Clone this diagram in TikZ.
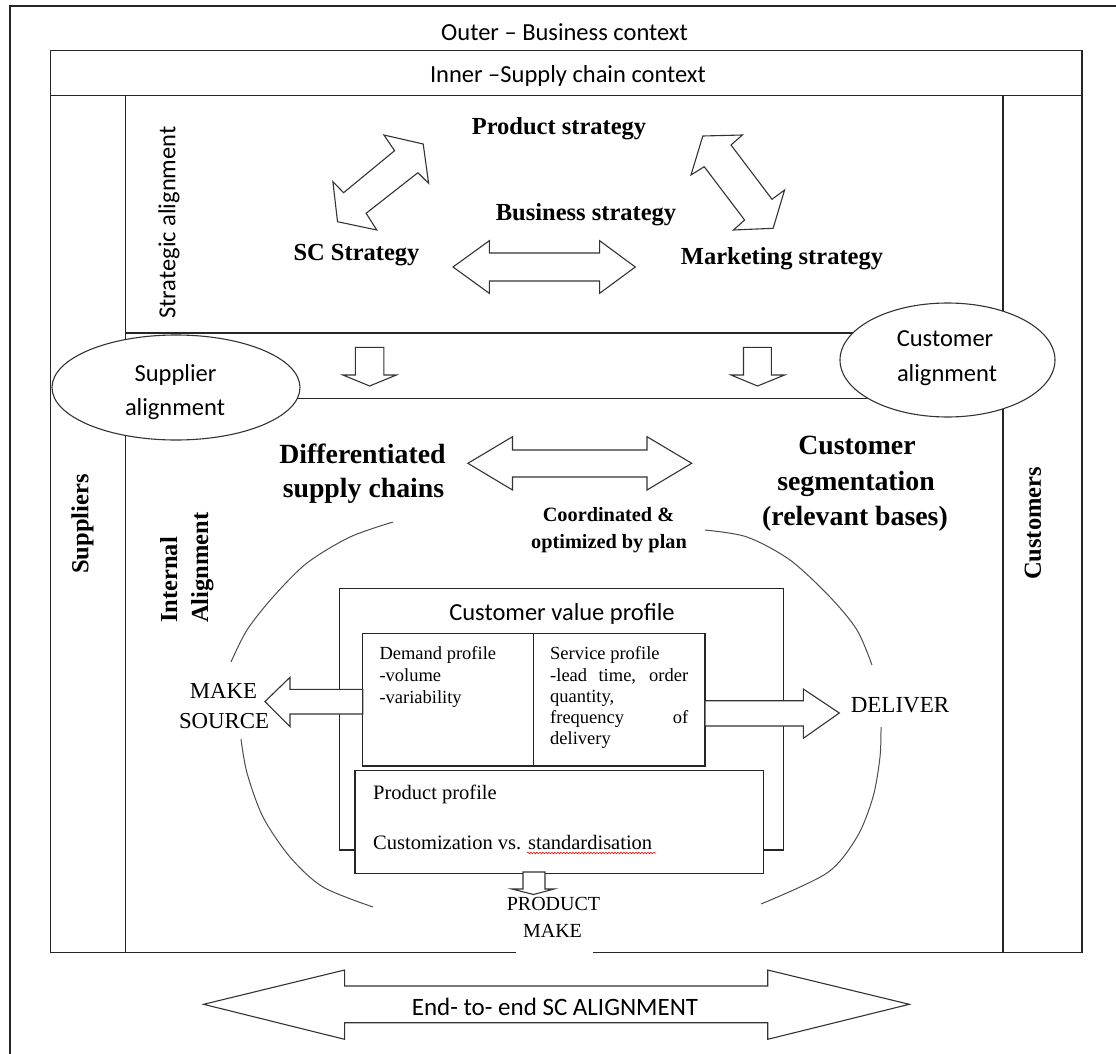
\documentclass[tikz,border=0pt]{standalone}
\usepackage{fontspec}
\setmainfont{Liberation Serif}
\newfontfamily\calfont{Carlito}
\usetikzlibrary{shapes.geometric,decorations.pathmorphing}
\newcommand\mysz[1]{\fontsize{#1}{#1}\selectfont}
\tikzset{
  frame/.style={line width=1.2pt, draw=black!85},
  blockarrow/.style={draw=black!80, line width=1.1pt, fill=white, line join=miter},
  arcline/.style={draw=black!70, line width=1pt},
  ell/.style={ellipse, draw=black!80, line width=1.1pt, fill=white, inner sep=0pt},
  lbl/.style={inner sep=0pt, anchor=base},
  lblw/.style={inner sep=0pt, anchor=base west},
  cal/.style={font=\calfont\mysz{24.5}},
  tb/.style={font=\bfseries\mysz{24.5}},
  tbig/.style={font=\bfseries\mysz{27.8}},
  tsmall/.style={font=\bfseries\mysz{20.3}},
  prof/.style={font=\mysz{18.5}},
  pprof/.style={font=\mysz{20.5}},
  capfont/.style={font=\mysz{22.8}},
}
\begin{document}
\begin{tikzpicture}[x=1pt,y=-1pt]
\useasboundingbox (0,0) rectangle (1116,1054);
% outer frame (clipped at right and bottom)
\draw[frame] (1116,6) -- (10,6) -- (10,1054);
% inner frame with gap under PRODUCT MAKE
\draw[frame] (516,952.7) -- (50.7,952.7) -- (50.7,50.7) -- (1082,50.7) -- (1082,952.7) -- (593,952.7);
\draw[frame] (50.7,95.7) -- (1082,95.7);
\draw[frame] (125.7,95.7) -- (125.7,952.7);
\draw[frame] (1003,95.7) -- (1003,952.7);
\draw[frame] (125.7,333) -- (1003,333);
\draw[frame] (125.7,398.3) -- (1003,398.3);
% ellipses
\node[ell, minimum width=248pt, minimum height=105pt] (supell) at (176,387.5) {};
\node[ell, minimum width=215pt, minimum height=114pt] (cusell) at (947.5,360) {};
% header texts
\node[lbl, cal] (outer) at (564.5,41) {Outer – Business context};
\node[lbl, cal] (inner) at (568,83) {Inner –Supply chain context};
\node[cal, rotate=90, inner sep=0pt] (strat) at (169,222.5) {Strategic alignment};
% strategy texts
\node[lbl, tb] (prod) at (559,135) {Product strategy};
\node[lbl, tb] (bus) at (586,220) {Business strategy};
\node[lbl, tb] (scs) at (356.5,260) {SC Strategy};
\node[lbl, tb] (mkt) at (782,264) {Marketing strategy};
% strategy arrows
\draw[blockarrow] (453,267) -- (489.3,240.7) -- (489.3,253) -- (599.6,253) -- (599.6,240.7) -- (635.3,267) -- (599.6,293.3) -- (599.6,281) -- (489.3,281) -- (489.3,293.3) -- cycle;
\draw[blockarrow] (383.9,135) -- (423.2,144) -- (428.6,183.3) -- (417.9,172.7) -- (366.1,213.3) -- (376.8,230) -- (337.5,221.7) -- (332.9,181.7) -- (343.6,192.7) -- (394.6,150.7) -- cycle;
\draw[blockarrow] (702.8,136) -- (742.4,135) -- (731,145) -- (772,199.3) -- (784.6,190) -- (773.1,228.3) -- (733.5,230) -- (744.6,220) -- (704.2,166.7) -- (691,175) -- cycle;
% band down arrows
\draw[blockarrow] (355.4,347.3) -- (383.9,347.3) -- (383.9,375) -- (396.4,375) -- (369.6,386) -- (342.9,375) -- (355.4,375) -- cycle;
\draw[blockarrow] (743.5,347.3) -- (771.4,347.3) -- (771.4,375) -- (784.6,375) -- (757.5,386) -- (731,375) -- (743.5,375) -- cycle;
% ellipse texts
\node[lbl, cal] (sup1) at (175.5,381) {Supplier};
\node[lbl, cal] (sup2) at (175,415) {alignment};
\node[lbl, cal] (cus1) at (945,346.7) {Customer};
\node[lbl, cal] (cus2) at (947,381) {alignment};
% column labels
\node[tb, rotate=90, inner sep=0pt] (suppliers) at (82.5,524) {Suppliers};
\node[tb, rotate=90, inner sep=0pt] (customers) at (1033,523.5) {Customers};
\node[tb, rotate=90, lblw] (int1) at (177,623) {Internal};
\node[tb, rotate=90, lblw] (int2) at (208,623) {Alignment};
% middle texts
\node[lbl, tbig] (dif1) at (362.5,463) {Differentiated};
\node[lbl, tbig] (dif2) at (363.5,497) {supply chains};
\node[lbl, tbig] (seg1) at (857,454) {Customer};
\node[lbl, tbig] (seg2) at (856,490) {segmentation};
\node[lbl, tbig] (seg3) at (855,525) {(relevant bases)};
\node[lbl, tsmall] (coo1) at (608.5,521) {Coordinated \&};
\node[lbl, tsmall] (coo2) at (609,548) {optimized by plan};
\draw[blockarrow] (467.9,463.3) -- (512.5,436.7) -- (512.5,450) -- (647,450) -- (647,436.7) -- (691.7,463.3) -- (647,490) -- (647,477) -- (512.5,477) -- (512.5,490) -- cycle;
% arcs
\draw[arcline] plot[smooth] coordinates {(393,522) (350,537) (307,563) (273,597) (247,630) (231,662)};
\draw[arcline] plot[smooth] coordinates {(241,739) (247,773) (263,817) (290,857) (323,887) (373,907)};
\draw[arcline] plot[smooth] coordinates {(705,530) (747,537) (790,560) (830,597) (857,630) (872,665)};
\draw[arcline] plot[smooth] coordinates {(881,727) (880,757) (873,797) (857,837) (827,873) (761,904)};
% customer value profile
\draw[frame] (339.3,588.3) rectangle (783.3,850);
\node[lbl, cal] (cvp) at (562,620) {Customer value profile};
\draw[frame] (362.7,633.3) rectangle (705,766);
\draw[frame] (533.3,633.3) -- (533.3,766);
\draw[frame, fill=white] (355,770.7) rectangle (763.3,873.3);
\node[lblw, prof] (dem1) at (379.3,659) {Demand profile};
\node[lblw, prof] (dem2) at (379.3,681) {-volume};
\node[lblw, prof] (dem3) at (379.3,703) {-variability};
\node[lblw, prof] (ser1) at (550,659) {Service profile};
\node[lblw, prof] (ser2) at (550,681) {\makebox[138pt][s]{-lead time, order}};
\node[lblw, prof] (ser3) at (550,702) {quantity,};
\node[lblw, prof] (ser4) at (550,723) {\makebox[138pt][s]{frequency of}};
\node[lblw, prof] (ser5) at (550,744) {delivery};
\node[lblw, pprof] (pp1) at (373,799) {Product profile};
\node[lblw, pprof] (pp2) at (373,849) {Customization vs. standardisation};
\draw[red, line width=0.6pt, decorate, decoration={snake, amplitude=0.8pt, segment length=3pt}] (527,853) -- (656,853);
% side arrows
\draw[blockarrow] (362.7,689.3) -- (290,689.3) -- (290,677.3) -- (265,701.5) -- (290,726.7) -- (290,714) -- (362.7,714) -- cycle;
\draw[blockarrow] (705,700.7) -- (803.3,700.7) -- (803.3,689) -- (839.3,713) -- (803.3,738.3) -- (803.3,726) -- (705,726) -- cycle;
\node[lbl, capfont] (make) at (223.5,698) {MAKE};
\node[lbl, capfont] (source) at (224,728) {SOURCE};
\node[lbl, font=\mysz{23}] (deliver) at (900,712) {DELIVER};
% product make
\draw[blockarrow] (523,872) -- (545,872) -- (545,889) -- (554,889) -- (533.5,894.5) -- (512,889) -- (523,889) -- cycle;
\node[lbl, font=\mysz{20}] (pm1) at (553.5,910) {PRODUCT};
\node[lbl, font=\mysz{20}] (pm2) at (552.5,937) {MAKE};
% end-to-end arrow
\draw[blockarrow] (203.6,1004.3) -- (344.6,970) -- (344.6,986) -- (767.7,986) -- (767.7,970) -- (909.3,1004.3) -- (767.7,1039.3) -- (767.7,1022.7) -- (344.6,1022.7) -- (344.6,1039.3) -- cycle;
\node[lbl, font=\calfont\mysz{25}] (e2e) at (555,1015) {End- to- end SC ALIGNMENT};
\end{tikzpicture}
\end{document}
